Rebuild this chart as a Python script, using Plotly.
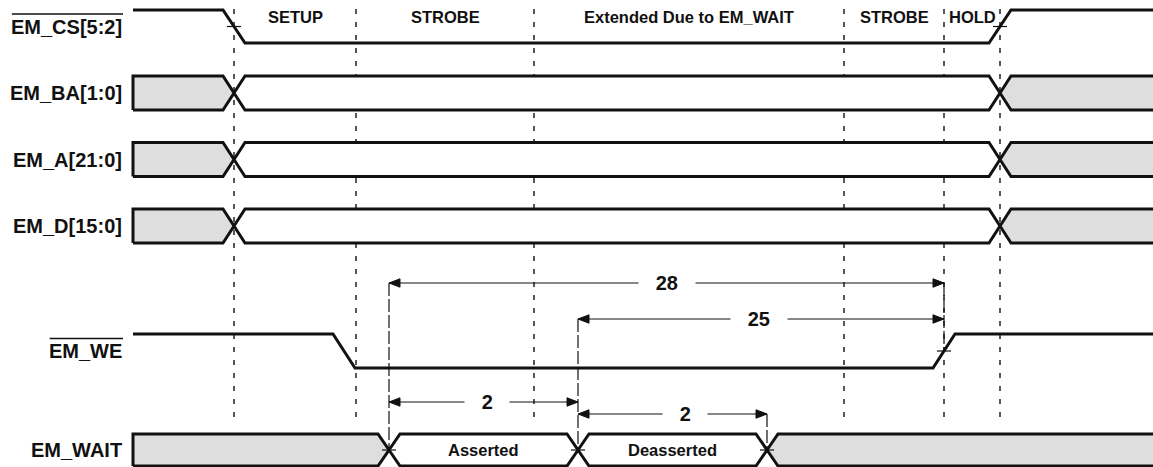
import plotly.graph_objects as go

# ---------------- data ----------------
# time axis expressed in drawing units (left -> right)
phase_names = ["SETUP", "STROBE", "Extended Due to EM_WAIT", "STROBE", "HOLD"]
phase_edges = [234, 356, 534, 844, 944, 1000]

signal_names = ["EM_CS[5:2]", "EM_BA[1:0]", "EM_A[21:0]", "EM_D[15:0]", "EM_WE", "EM_WAIT"]
signal_kind = ["line", "bus", "bus", "bus", "line", "bus"]
active_low = [True, False, False, False, True, False]

# single-line signals: edge centres and starting level (1 = high)
line_edges = {"EM_CS[5:2]": [234, 1000], "EM_WE": [344, 944]}
line_start_level = {"EM_CS[5:2]": 1, "EM_WE": 1}

# bus signals: crossing times and state of each segment
bus_edges = {
    "EM_BA[1:0]": [234, 1000],
    "EM_A[21:0]": [234, 1000],
    "EM_D[15:0]": [234, 1000],
    "EM_WAIT": [389, 578, 767],
}
bus_states = {
    "EM_BA[1:0]": ["invalid", "valid", "invalid"],
    "EM_A[21:0]": ["invalid", "valid", "invalid"],
    "EM_D[15:0]": ["invalid", "valid", "invalid"],
    "EM_WAIT": ["invalid", "Asserted", "Deasserted", "invalid"],
}

# timing measurements: label, start, end, label position
meas_labels = ["28", "25", "2", "2"]
meas_start = [389, 578, 389, 578]
meas_end = [944, 944, 578, 767]
meas_label_at = [667, 759, 487, 685]
# reference edges (time, signal the edge belongs to)
ref_times = [389, 578, 767, 944]
ref_signals = ["EM_WAIT", "EM_WAIT", "EM_WAIT", "EM_WE"]

# ---------------- layout constants ----------------
W, H = 1153, 467
row_center = [26.5, 93, 159.5, 226, 351, 450]
row_half = [16.5, 17, 17, 17, 17, 16]
meas_row = [283, 319, 402, 414]
x_begin, x_end = 133, 1170
tw = 11  # half transition width
ink = "#111111"
gray = "#dedede"
font_family = "Liberation Sans, Arial, Helvetica, sans-serif"
sig_font = 20
phase_font = 16.5

fig = go.Figure()

def add_line(xs, ys, width=3, dash=None, color=ink):
    fig.add_trace(go.Scatter(x=xs, y=ys, mode="lines",
                             line=dict(color=color, width=width, dash=dash),
                             hoverinfo="skip", showlegend=False))

# phase dashed guide lines
px, py = [], []
for e in phase_edges:
    px += [e, e, None]
    py += [9, 424, None]
add_line(px, py, width=1.4, dash="5px,8px")

yc_of = dict(zip(signal_names, row_center))
h_of = dict(zip(signal_names, row_half))

# signals
for name, kind, yc, h in zip(signal_names, signal_kind, row_center, row_half):
    if kind == "line":
        lvl = line_start_level[name]
        xs, ys = [x_begin], [yc - h if lvl else yc + h]
        for e in line_edges[name]:
            y0 = yc - h if lvl else yc + h
            lvl = 1 - lvl
            y1 = yc - h if lvl else yc + h
            xs += [e - tw, e + tw]
            ys += [y0, y1]
        xs.append(x_end)
        ys.append(ys[-1])
        add_line(xs, ys)
    else:
        edges = bus_edges[name]
        states = bus_states[name]
        n = len(edges)
        for i, st in enumerate(states):
            a = x_begin if i == 0 else edges[i - 1]
            b = edges[i] if i < n else x_end
            pts = []
            if i == 0:
                pts += [(a, yc + h), (a, yc - h)]
            else:
                pts += [(a, yc), (a + tw, yc - h)]
            if i < n:
                pts += [(b - tw, yc - h), (b, yc), (b - tw, yc + h)]
            else:
                pts += [(b, yc - h), (b, yc + h)]
            if i == 0:
                pts += [(a, yc + h)]
            else:
                pts += [(a + tw, yc + h), (a, yc)]
            fig.add_trace(go.Scatter(
                x=[p[0] for p in pts], y=[p[1] for p in pts], mode="lines",
                fill="toself", fillcolor=gray if st == "invalid" else "white",
                line=dict(color=ink, width=3), hoverinfo="skip", showlegend=False))
            if st not in ("invalid", "valid"):
                fig.add_annotation(x=(a + b) / 2, y=yc, text=st, showarrow=False,
                                   font=dict(family=font_family, size=16.5, color=ink, weight="bold"),
                                   xanchor="center", yanchor="middle")

# reference long-dash lines
for t, s in zip(ref_times, ref_signals):
    tops = [r for r, a, b in zip(meas_row, meas_start, meas_end) if t in (a, b)]
    add_line([t, t], [min(tops), yc_of[s]], width=1.2, dash="13px,3px")

# small crossing ticks
tick_x, tick_y = [], []
for e in line_edges["EM_CS[5:2]"]:
    tick_x.append(e); tick_y.append(yc_of["EM_CS[5:2]"])
tick_x.append(line_edges["EM_WE"][1]); tick_y.append(yc_of["EM_WE"])
for e in bus_edges["EM_WAIT"]:
    tick_x.append(e); tick_y.append(yc_of["EM_WAIT"])
fig.add_trace(go.Scatter(x=tick_x, y=tick_y, mode="markers",
                         marker=dict(symbol="line-ew", size=10, line=dict(color=ink, width=1.2)),
                         hoverinfo="skip", showlegend=False))

# timing arrows
L, hw = 11, 4.2
for lab, a, b, pos, y in zip(meas_labels, meas_start, meas_end, meas_label_at, meas_row):
    add_line([a, b], [y, y], width=1.2)
    for tip, d in ((a, 1), (b, -1)):
        fig.add_trace(go.Scatter(x=[tip, tip + d * L, tip + d * L, tip],
                                 y=[y, y - hw, y + hw, y], mode="lines", fill="toself",
                                 fillcolor=ink, line=dict(color=ink, width=1),
                                 hoverinfo="skip", showlegend=False))
    pad = "\u00a0" * 3
    fig.add_annotation(x=pos, y=y, text=pad + lab + pad, showarrow=False,
                       bgcolor="white", borderpad=0,
                       font=dict(family=font_family, size=20, color=ink, weight="bold"),
                       xanchor="center", yanchor="middle")

# phase labels
for nm, a, b in zip(phase_names, phase_edges[:-1], phase_edges[1:]):
    fig.add_annotation(x=(a + b) / 2, y=16.5, text=nm, showarrow=False,
                       font=dict(family=font_family, size=phase_font, color=ink, weight="bold"),
                       xanchor="center", yanchor="middle")

# signal labels (with overline for active-low)
cw = {"E": .667, "M": .833, "_": .556, "C": .722, "S": .667, "[": .333, "]": .333,
      "5": .556, "2": .556, ":": .333, "W": .944, "B": .722, "A": .722, "1": .556,
      "0": .556, "D": .722, "I": .278, "T": .611}
label_right = 123
shapes = []
for name, yc, low in zip(signal_names, row_center, active_low):
    fig.add_annotation(x=label_right, y=yc, text=name, showarrow=False, borderpad=0,
                       font=dict(family=font_family, size=sig_font, color=ink, weight="bold"),
                       xanchor="right", yanchor="middle")
    if low:
        wpx = sum(cw.get(c, .556) for c in name) * sig_font
        shapes.append(dict(type="line", xref="x", yref="y",
                           x0=label_right - wpx, x1=label_right,
                           y0=yc - 12.5, y1=yc - 12.5,
                           line=dict(color=ink, width=1.5)))

fig.update_layout(
    width=W, height=H, autosize=False,
    margin=dict(l=0, r=0, t=0, b=0),
    paper_bgcolor="white", plot_bgcolor="white",
    xaxis=dict(range=[0, W], visible=False, fixedrange=True),
    yaxis=dict(range=[H, 0], visible=False, fixedrange=True),
    shapes=shapes,
)

fig.write_html("out.html", config={"displayModeBar": False},
               post_script="document.body.style.margin='0';document.body.style.overflow='hidden';")
